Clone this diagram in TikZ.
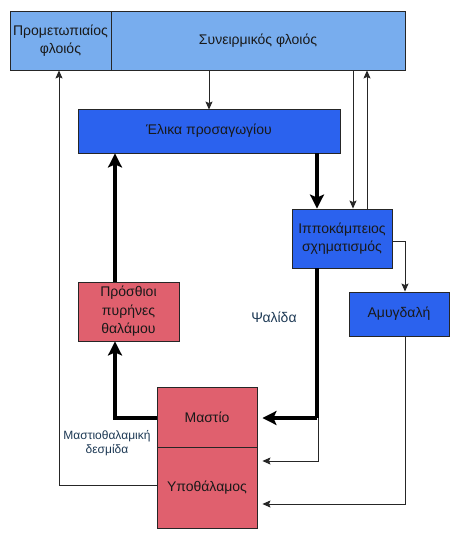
\documentclass[tikz,border=0pt]{standalone}
\usepackage{fontspec}
\setmainfont{Liberation Sans}
\usetikzlibrary{arrows.meta,calc}
\definecolor{lightblue}{HTML}{78ADEE}
\definecolor{deepblue}{HTML}{2B62EE}
\definecolor{rosered}{HTML}{E0606E}
\definecolor{labeltxt}{HTML}{1E3A55}
\tikzset{
  box/.style={draw=black!85, line width=0.9pt, inner sep=1pt, align=center,
    font=\fontsize{14}{18.5}\selectfont, text=black!90},
  cortex/.style={box, fill=lightblue},
  bluebox/.style={box, fill=deepblue},
  pinkbox/.style={box, fill=rosered},
  thinarrow/.style={draw=black!85, line width=0.8pt, -{Stealth[length=8pt,width=7pt,inset=1.5pt]}},
  thinline/.style={draw=black!85, line width=0.8pt},
  thickarrow/.style={draw=black, line width=3.6pt, -{Stealth[length=14pt,width=14pt,inset=3pt]}},
  thickline/.style={draw=black, line width=3.6pt},
  tag/.style={text=labeltxt, align=center}
}
\begin{document}
\begin{tikzpicture}[x=1pt,y=-1pt]
\useasboundingbox[fill=white] (0,0) rectangle (463,536);
% nodes
\node[cortex, minimum width=101pt, minimum height=59pt] (prom) at (60.5,40.5) {Προμετωπιαίος\\φλοιός};
\node[cortex, minimum width=294pt, minimum height=59pt] (syn) at (258,40.5) {Συνειρμικός φλοιός};
\node[bluebox, minimum width=262pt, minimum height=44pt] (ela) at (209,131) {Έλικα προσαγωγίου};
\node[bluebox, minimum width=100pt, minimum height=59pt] (ippo) at (342,238.5) {Ιπποκάμπειος\\σχηματισμός};
\node[bluebox, minimum width=100pt, minimum height=44pt] (amyg) at (399,314) {Αμυγδαλή};
\node[pinkbox, minimum width=101pt, minimum height=59pt] (pros) at (128.5,311.5) {Πρόσθιοι\\πυρήνες\\θαλάμου};
\node[pinkbox, minimum width=100pt, minimum height=60pt] (mast) at (207,417) {Μαστίο};
\node[pinkbox, minimum width=100pt, minimum height=81pt] (ypo) at (207,487.5) {Υποθάλαμος};
\node[tag, font=\fontsize{14}{16}\selectfont] (psal) at (274,317) {Ψαλίδα};
\node[tag, font=\fontsize{12}{14}\selectfont] (mtd) at (107,443) {Μαστιοθαλαμική\\δεσμίδα};
% guide coordinates
\coordinate (xa) at (353,0);
\coordinate (xb) at (367,0);
\coordinate (xc) at (317,0);
\coordinate (xd) at (405,0);
\coordinate (xe) at (115,0);
\coordinate (xf) at (59,0);
\coordinate (ya) at (0,241);
\coordinate (yb) at (0,418);
\coordinate (yc) at (0,461);
\coordinate (yd) at (0,504);
\coordinate (ye) at (0,485);
% connectors
\draw[thinarrow] (syn.south -| ela.north) -- ([yshift=-1pt]ela.north);
\draw[thinarrow] (syn.south -| xa) -- (ippo.north -| xa);
\draw[thinarrow] (ippo.north -| xb) -- (syn.south -| xb);
\draw[thickarrow] (ela.south -| xc) -- (ippo.north -| xc);
\draw[thinarrow] (ippo.east |- ya) -| (amyg.north -| xd);
\draw[thickline] (ippo.south -| xc) -- (xc |- yb);
\draw[thickarrow] (xc |- yb) -- ([xshift=5pt]mast.east |- yb);
\draw[thinarrow] ([xshift=1pt]xc |- yb) |- ([xshift=5pt]ypo.east |- yc);
\draw[thinarrow] (amyg.south -| xd) |- ([xshift=5pt]ypo.east |- yd);
\draw[thinarrow] (ypo.west |- ye) -| (prom.south -| xf);
\draw[thickarrow] (pros.north -| xe) -- (ela.south -| xe);
\draw[thickarrow] (mast.west |- yb) -| (pros.south -| xe);
\end{tikzpicture}
\end{document}
